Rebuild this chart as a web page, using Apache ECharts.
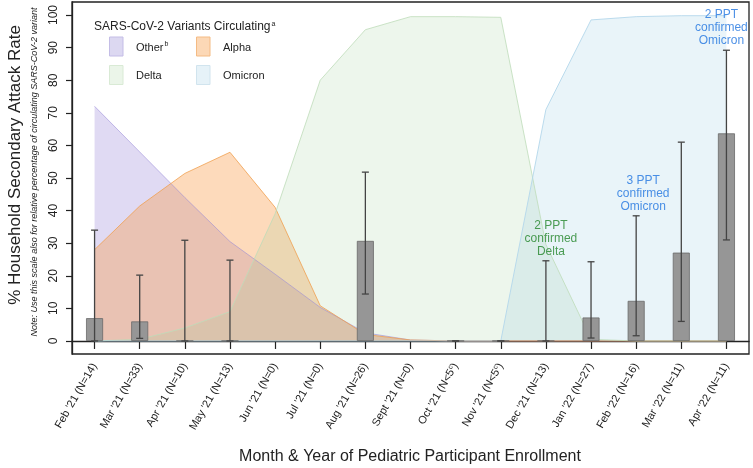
<!DOCTYPE html>
<html>
<head>
<meta charset="utf-8">
<script src="https://cdn.jsdelivr.net/npm/echarts@6/dist/echarts.min.js"></script>
<style>
html,body{margin:0;padding:0;background:#fff;}
#c{width:753px;height:468px;}
</style>
</head>
<body>
<div id="c"></div>
<script>
// ---- data ----
const categories = ["Feb '21 (N=14)", "Mar '21 (N=33)", "Apr '21 (N=10)", "May '21 (N=13)", "Jun '21 (N=0)", "Jul '21 (N=0)", "Aug '21 (N=26)", "Sept '21 (N=0)", "Oct '21 (N<5ᶜ)", "Nov '21 (N<5ᶜ)", "Dec '21 (N=13)", "Jan '22 (N=27)", "Feb '22 (N=16)", "Mar '22 (N=11)", "Apr '22 (N=11)"];
const otherPct   = [72, 58, 44, 30.5, 20.5, 10.3, 2.5, 0.3, 0, 0, 0, 0, 0, 0, 0];
const alphaPct   = [28, 41.4, 51.4, 57.9, 41, 10.8, 2, 0.3, 0, 0, 0, 0, 0, 0, 0];
const deltaPct   = [0, 0.5, 4, 9, 39, 80, 95.5, 99.5, 99.5, 99.3, 29.6, 0.5, 0, 0, 0];
const omicronPct = [0, 0, 0, 0, 0, 0, 0, 0, 0, 0, 71, 98.5, 99.5, 99.8, 99.8];
const sarValue   = [7, 6, 0, 0, null, null, 30.7, null, 0, 0, 0, 7.2, 12.3, 27.1, 63.7];
const ciLower    = [0, 0.8, 0, 0, null, null, 14.4, null, 0, 0, 0, 0.9, 1.6, 6, 31];
const ciUpper    = [34, 20.2, 30.9, 24.8, null, null, 51.8, null, 0, 0, 24.6, 24.3, 38.4, 61, 89.2];
const yTicks     = [0, 10, 20, 30, 40, 50, 60, 70, 80, 90, 100];
const notes = [
  {cat: 10, text: "2 PPT\nconfirmed\nDelta", color: "#23862a"},
  {cat: 12, text: "3 PPT\nconfirmed\nOmicron", color: "#1f74e0"},
  {cat: 14, text: "2 PPT\nconfirmed\nOmicron", color: "#1f74e0"}
];

const FONT = "'Liberation Sans', Arial, Helvetica, sans-serif";
const chart = echarts.init(document.getElementById('c'), null, {renderer: 'canvas', width: 753, height: 468});

const errData = [];
categories.forEach((c, i) => { if (ciUpper[i] !== null) errData.push([i, ciLower[i], ciUpper[i]]); });

function areaSeries(name, data, fill, line) {
  return {
    name, type: 'line', data, symbol: 'none', silent: true, z: 1,
    lineStyle: {color: line, width: 1},
    areaStyle: {color: fill, opacity: 1, origin: 0}
  };
}

const noteOffsets = [[5, 0], [7, 0], [-5, 0]];
const supRich = {sup: {fontSize: 7, fontFamily: FONT, fill: '#222', color: '#222', padding: [0, 0, 6, 1]}};

chart.setOption({
  animation: false,
  backgroundColor: '#fff',
  grid: {left: 72, right: 4, top: 2, bottom: 114, show: true, borderColor: '#222', borderWidth: 1.3, backgroundColor: 'transparent'},
  xAxis: {
    type: 'category', data: categories, boundaryGap: true,
    axisLine: {show: true, lineStyle: {color: '#222', width: 1.3}},
    axisTick: {show: true, alignWithLabel: true, length: 8, lineStyle: {color: '#222', width: 1.2}},
    axisLabel: {
      interval: 0, rotate: 60, margin: 10, fontSize: 11, color: '#222', fontFamily: FONT,
      formatter: v => v.replace('ᶜ', '{sup|c}'),
      rich: {sup: {fontSize: 7, fontFamily: FONT, color: '#222', padding: [0, 0, 6, 0]}}
    },
    splitLine: {show: false}
  },
  yAxis: {
    type: 'value', min: -4, max: 104,
    axisLine: {show: true, lineStyle: {color: '#222', width: 1.3}},
    axisTick: {show: true, length: 6, customValues: yTicks, lineStyle: {color: '#222', width: 1.2}},
    axisLabel: {rotate: 90, margin: 12, fontSize: 12, color: '#222', fontFamily: FONT, customValues: yTicks},
    splitLine: {show: false}
  },
  series: [
    areaSeries('Other', otherPct, 'rgba(140,120,210,0.27)', 'rgba(150,135,215,0.55)'),
    areaSeries('Alpha', alphaPct, 'rgba(250,150,60,0.35)', 'rgba(240,160,80,0.8)'),
    areaSeries('Delta', deltaPct, 'rgba(150,200,140,0.17)', 'rgba(190,220,185,0.8)'),
    areaSeries('Omicron', omicronPct, 'rgba(140,195,225,0.19)', 'rgba(180,215,235,0.9)'),
    {
      name: 'SAR', type: 'bar', data: sarValue, barWidth: 17, z: 5,
      itemStyle: {color: '#969696', borderColor: '#6a6a6a', borderWidth: 0.8}
    },
    {
      name: 'CI', type: 'custom', z: 6, data: errData,
      renderItem: function (params, api) {
        const x = api.coord([api.value(0), 0])[0];
        const lo = api.coord([api.value(0), api.value(1)])[1];
        const hi = api.coord([api.value(0), api.value(2)])[1];
        const w = 3.5;
        const st = {stroke: '#444', lineWidth: 1.3};
        return {type: 'group', children: [
          {type: 'line', shape: {x1: x, y1: lo, x2: x, y2: hi}, style: st},
          {type: 'line', shape: {x1: x - w, y1: lo, x2: x + w, y2: lo}, style: st},
          {type: 'line', shape: {x1: x - w, y1: hi, x2: x + w, y2: hi}, style: st}
        ]};
      }
    },
    {
      name: 'notes', type: 'scatter', z: 7, symbolSize: 0, silent: true,
      data: notes.map((n, k) => ({
        value: [n.cat, ciUpper[n.cat]],
        label: {
          show: true, position: 'top', distance: 3, offset: noteOffsets[k],
          formatter: n.text, color: n.color, fontSize: 12, lineHeight: 13,
          fontFamily: FONT, align: 'center'
        }
      }))
    }
  ],
  graphic: [
    {type: 'text', x: 15, y: 165, rotation: Math.PI / 2, z: 10,
      style: {text: '% Household Secondary Attack Rate', x: 0, y: 0, textAlign: 'center', textVerticalAlign: 'middle', fontSize: 17, fontFamily: FONT, fill: '#222'}},
    {type: 'text', x: 34, y: 172, rotation: Math.PI / 2, z: 10,
      style: {text: 'Note: Use this scale also for relative percentage of circulating SARS-CoV-2 variant', x: 0, y: 0, textAlign: 'center', textVerticalAlign: 'middle', fontSize: 9, fontStyle: 'italic', fontFamily: FONT, fill: '#222'}},
    {type: 'text', x: 410, y: 457, z: 10,
      style: {text: 'Month & Year of Pediatric Participant Enrollment', x: 0, y: 0, textAlign: 'center', textVerticalAlign: 'middle', fontSize: 16, fontFamily: FONT, fill: '#222'}},
    // legend
    {type: 'text', x: 94, y: 27, z: 10,
      style: {text: 'SARS-CoV-2 Variants Circulating{sup|a}', rich: supRich, textVerticalAlign: 'middle', fontSize: 12, fontFamily: FONT, fill: '#222'}},
    {type: 'rect', z: 10, shape: {x: 109.5, y: 37, width: 13.5, height: 19}, style: {fill: '#dcd8f1', stroke: '#c4bde6', lineWidth: 1}},
    {type: 'rect', z: 10, shape: {x: 196.5, y: 37, width: 13.5, height: 19}, style: {fill: '#fcd8b6', stroke: '#f4bb84', lineWidth: 1}},
    {type: 'rect', z: 10, shape: {x: 109.5, y: 65.5, width: 13.5, height: 19}, style: {fill: '#ebf5e9', stroke: '#d9ead5', lineWidth: 1}},
    {type: 'rect', z: 10, shape: {x: 196.5, y: 65.5, width: 13.5, height: 19}, style: {fill: '#e6f2f8', stroke: '#d1e4ee', lineWidth: 1}},
    {type: 'text', x: 136, y: 47.5, z: 10, style: {text: 'Other{sup|b}', rich: supRich, textVerticalAlign: 'middle', fontSize: 11, fontFamily: FONT, fill: '#222'}},
    {type: 'text', x: 223, y: 47.5, z: 10, style: {text: 'Alpha', textVerticalAlign: 'middle', fontSize: 11, fontFamily: FONT, fill: '#222'}},
    {type: 'text', x: 136, y: 76, z: 10, style: {text: 'Delta', textVerticalAlign: 'middle', fontSize: 11, fontFamily: FONT, fill: '#222'}},
    {type: 'text', x: 223, y: 76, z: 10, style: {text: 'Omicron', textVerticalAlign: 'middle', fontSize: 11, fontFamily: FONT, fill: '#222'}}
  ]
});
</script>
</body>
</html>
